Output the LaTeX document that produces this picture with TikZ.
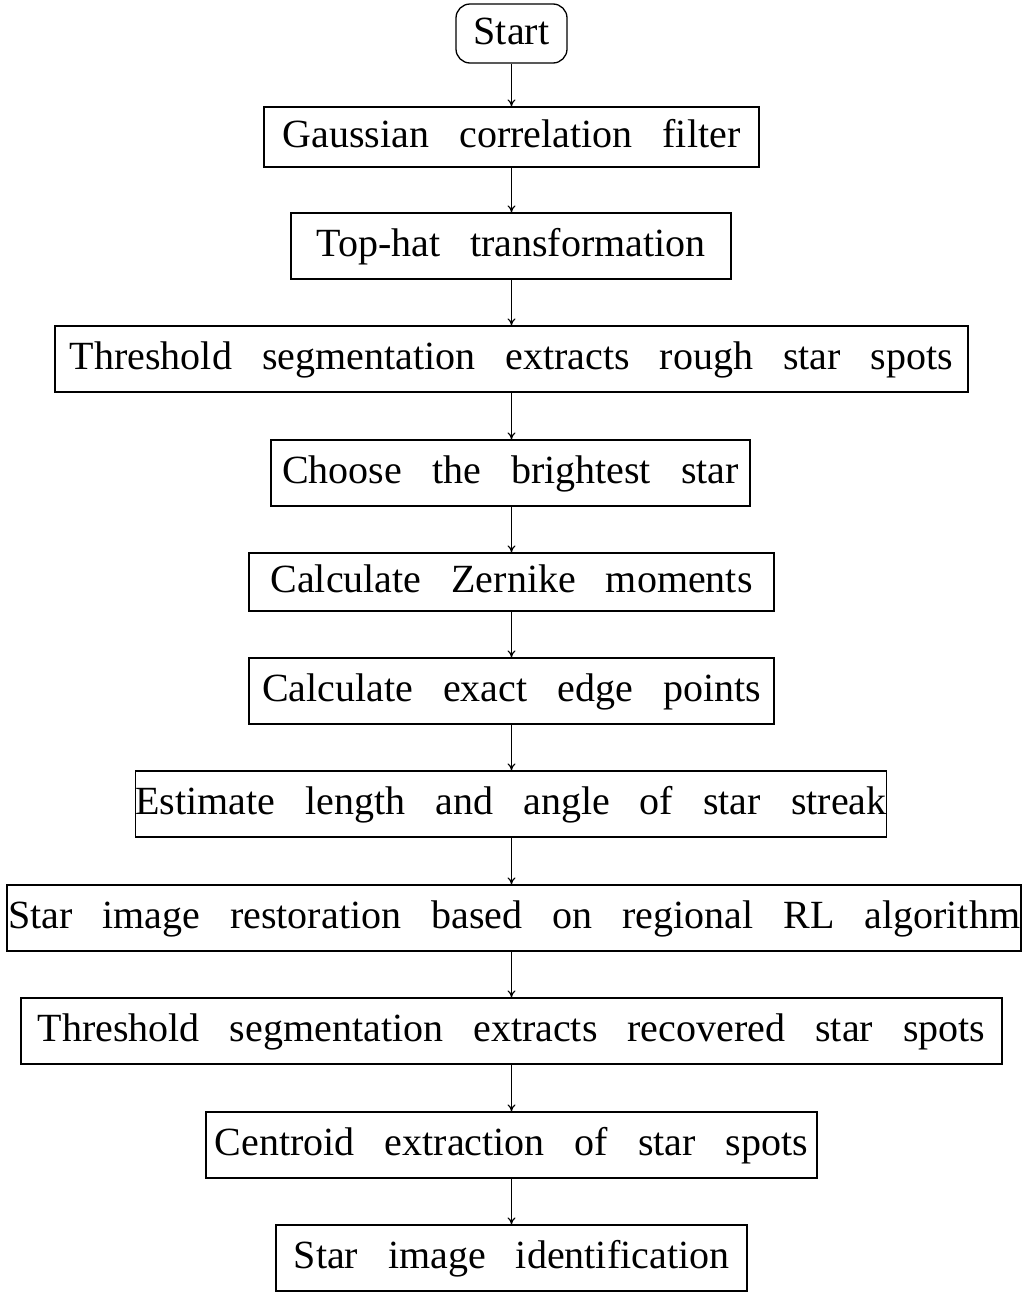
\documentclass[tikz,border=0pt]{standalone}
\usepackage{fontspec}
\setmainfont{Liberation Serif}
\usetikzlibrary{arrows.meta}
\newcommand\mywsp{\spaceskip=30pt\relax}
\begin{document}
\begin{tikzpicture}[x=1pt,y=-1pt,
  box/.style={draw,line width=1.3pt,minimum height=66pt,inner sep=0pt,font=\fontsize{40}{46}\selectfont\mywsp,text height=29pt,text depth=8pt},
  arr/.style={-{To[length=7pt,width=8pt]},line width=1.2pt}]
\useasboundingbox (0,0) rectangle (1025,1296);
\node[box,rounded corners=14pt,minimum width=111pt,minimum height=59pt] (s) at (511.5,33.5) {Start};
\node[box,minimum width=495pt,minimum height=60pt] (a) at (511.5,137) {Gaussian correlation filter};
\node[box,minimum width=440pt] (b) at (511,246) {Top-hat transformation};
\node[box,minimum width=913pt] (c) at (511.5,359) {Threshold segmentation extracts rough star spots};
\node[box,minimum width=479pt] (d) at (510.5,473) {Choose the brightest star};
\node[box,minimum width=525pt,minimum height=58pt] (e) at (511.5,582) {Calculate Zernike moments};
\node[box,minimum width=525pt] (f) at (511.5,691) {Calculate exact edge points};
\node[box,minimum width=750pt] (g) at (511,804) {Estimate length and angle of star streak};
\node[box,minimum width=1014pt] (h) at (514,918) {Star image restoration based on regional RL algorithm};
\node[box,minimum width=981pt] (i) at (511.5,1031) {Threshold segmentation extracts recovered star spots};
\node[box,minimum width=611pt] (j) at (511.5,1145) {Centroid extraction of star spots};
\node[box,minimum width=471pt] (k) at (511.5,1258) {Star image identification};
\foreach \p/\q in {s/a,a/b,b/c,c/d,d/e,e/f,f/g,g/h,h/i,i/j,j/k}
  \draw[arr] (\p.south-|s) -- (\q.north-|s);
\end{tikzpicture}
\end{document}
